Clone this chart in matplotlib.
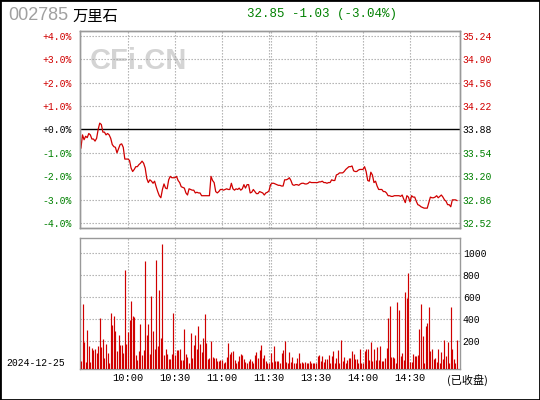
import matplotlib
matplotlib.use("Agg")
import matplotlib.pyplot as plt
from matplotlib.patches import Rectangle

# ---- data (002785 intraday, 2024-12-25) ----
prev_close = 33.88

prices = [
    33.61, 33.80, 33.73, 33.78, 33.76, 33.82, 33.80, 33.74, 33.74, 33.71,
    33.75, 33.88, 33.97, 33.95, 33.84, 33.84, 33.80, 33.82, 33.80, 33.75,
    33.66, 33.63, 33.62, 33.54, 33.60, 33.66, 33.67, 33.62, 33.45, 33.45,
    33.45, 33.43, 33.32, 33.27, 33.30, 33.34, 33.34, 33.37, 33.39, 33.42,
    33.39, 33.32, 33.17, 33.11, 33.15, 33.13, 33.10, 33.13, 33.05, 32.98,
    32.92, 32.89, 33.01, 33.09, 33.03, 33.02, 33.15, 33.20, 33.18, 33.18,
    33.18, 33.20, 33.14, 33.11, 33.05, 33.04, 33.03, 32.96, 32.93, 33.02,
    33.01, 33.00, 33.00, 32.96, 32.97, 32.96, 32.96, 32.92, 32.92, 32.92,
    32.92, 32.92, 32.92, 33.20, 33.14, 33.11, 32.98, 32.96, 32.98, 33.01,
    33.01, 33.00, 33.01, 33.02, 33.01, 33.01, 33.10, 33.02, 33.00, 33.02,
    33.01, 33.03, 33.00, 33.02, 33.08, 33.03, 33.08, 33.08, 32.96, 32.97,
    33.01, 32.98, 32.95, 32.95, 32.98, 32.97, 32.96, 32.93, 32.96, 32.97,
    32.99, 33.08, 33.10, 33.10, 33.09, 33.08, 33.07, 33.07, 33.06, 33.06,
    33.15, 33.15, 33.16, 33.18, 33.14, 33.08, 33.07, 33.08, 33.08, 33.07,
    33.09, 33.10, 33.10, 33.09, 33.09, 33.10, 33.12, 33.11, 33.11, 33.11,
    33.11, 33.11, 33.12, 33.12, 33.13, 33.11, 33.11, 33.10, 33.11, 33.11,
    33.15, 33.14, 33.14, 33.22, 33.23, 33.25, 33.25, 33.25, 33.27, 33.30,
    33.32, 33.34, 33.34, 33.35, 33.28, 33.27, 33.27, 33.29, 33.30, 33.30,
    33.30, 33.34, 33.27, 33.14, 33.13, 33.26, 33.22, 33.11, 33.13, 33.06,
    33.01, 33.01, 33.01, 32.98, 32.98, 32.96, 32.92, 32.92, 32.91, 32.91,
    32.92, 32.92, 32.92, 32.92, 32.91, 32.93, 32.87, 32.82, 32.92, 32.90,
    32.83, 32.92, 32.90, 32.90, 32.84, 32.79, 32.78, 32.76, 32.75, 32.74,
    32.74, 32.74, 32.82, 32.90, 32.89, 32.89, 32.90, 32.92, 32.89, 32.91,
    32.93, 32.90, 32.86, 32.84, 32.79, 32.79, 32.76, 32.86, 32.86, 32.86,
    32.85,
]

volumes = [
    22, 540, 197, 13, 303, 158, 13, 140, 122, 131,
    94, 158, 413, 149, 222, 49, 176, 94, 0, 458,
    349, 431, 294, 113, 258, 167, 167, 94, 849, 176,
    285, 394, 567, 431, 422, 76, 31, 113, 358, 76,
    122, 931, 258, 358, 85, 613, 294, 131, 940, 158,
    667, 231, 1085, 76, 131, 85, 40, 40, 85, 458,
    76, 122, 122, 131, 31, 31, 313, 85, 58, 0,
    276, 49, 167, 258, 131, 340, 176, 104, 231, 449,
    185, 40, 49, 204, 58, 49, 49, 22, 22, 31,
    31, 4, 13, 58, 185, 85, 104, 113, 31, 4,
    22, 67, 85, 76, 40, 13, 4, 22, 40, 22,
    4, 76, 104, 49, 122, 167, 49, 76, 22, 4,
    0, 94, 13, 158, 22, 22, 22, 4, 94, 122,
    204, 13, 0, 104, 13, 58, 0, 0, 49, 94,
    4, 13, 4, 13, 0, 0, 22, 4, 4, 0,
    0, 67, 76, 22, 67, 13, 40, 40, 76, 0,
    67, 113, 0, 49, 122, 4, 213, 22, 58, 4,
    31, 49, 49, 113, 85, 40, 40, 0, 131, 0,
    0, 113, 131, 131, 31, 194, 22, 131, 31, 149,
    31, 158, 22, 22, 49, 140, 413, 522, 58, 58,
    49, 0, 558, 485, 67, 94, 31, 649, 594, 822,
    13, 13, 85, 67, 67, 76, 313, 540, 249, 0,
    340, 367, 513, 113, 131, 40, 49, 13, 131, 0,
    104, 40, 213, 67, 194, 0, 513, 131, 40, 0,
    213,
]

pct_ticks = [4, 3, 2, 1, 0, -1, -2, -3, -4]
left_labels = ["+4.0%", "+3.0%", "+2.0%", "+1.0%", "+0.0%", "-1.0%", "-2.0%", "-3.0%", "-4.0%"]
right_labels = ["35.24", "34.90", "34.56", "34.22", "33.88", "33.54", "33.20", "32.86", "32.52"]
vol_ticks = [1000, 800, 600, 400, 200]
time_ticks = [30, 60, 90, 120, 150, 180, 210]
time_labels = ["10:00", "10:30", "11:00", "11:30", "13:30", "14:00", "14:30"]
grid_minutes = [30, 60, 90, 120, 121.5, 150, 180, 210]

RED = "#d00000"
GREEN = "#008000"
GRID = "#a8a8a8"
FRAME = "#999999"
MONO = "Liberation Mono"
CJK = ["Noto Sans CJK SC", "DejaVu Sans"]


def tick_color(v):
    if v > 0:
        return RED
    if v < 0:
        return GREEN
    return "black"


minutes = list(range(len(prices)))
pct = [(p / prev_close - 1) * 100 for p in prices]

fig = plt.figure(figsize=(5.4, 4.0), dpi=100)
W, H = 540, 400


def axes_box(left, top, right, bottom):
    return [left / W, 1 - bottom / H, (right - left) / W, (bottom - top) / H]


# ---- price panel ----
ax = fig.add_axes(axes_box(80, 31, 460, 227.7))
ax.set_xlim(-0.6, 241.9)
ax.set_ylim(-4.2, 4.2)
for v in pct_ticks:
    if v != 0:
        ax.axhline(v, color=GRID, lw=0.8, ls=(0, (1.2, 1.5)), zorder=1)
for m in grid_minutes:
    ax.axvline(m, color=GRID, lw=0.8, ls=(0, (1.2, 1.5)), zorder=1)
ax.axhline(0, color="black", lw=1.0, zorder=2)
ax.plot(minutes, pct, color=RED, lw=0.9, zorder=3)

ax.set_xticks([])
ax.set_yticks(pct_ticks)
ax.set_yticklabels(left_labels, family=MONO, fontsize=7)
ax.tick_params(axis="y", length=0, pad=6)
for lab, v in zip(ax.get_yticklabels(), pct_ticks):
    lab.set_color(tick_color(v))

ax_r = ax.twinx()
ax_r.set_ylim(ax.get_ylim())
ax_r.set_yticks(pct_ticks)
ax_r.set_yticklabels(right_labels, family=MONO, fontsize=7)
ax_r.tick_params(axis="y", length=0, pad=1.5)
for lab, v in zip(ax_r.get_yticklabels(), pct_ticks):
    lab.set_color(tick_color(v))

for a in (ax, ax_r):
    for s in a.spines.values():
        s.set_color(FRAME)
        s.set_linewidth(1.0)

ax.text(0.025, 0.845, "CFi.CN", transform=ax.transAxes, family="Liberation Sans",
        fontweight="bold", fontsize=21, color="#d4d4d4", va="center", ha="left", zorder=0)

# ---- volume panel ----
vfloor = -54
axv = fig.add_axes(axes_box(80, 238, 460, 369.3))
axv.set_xlim(-0.6, 241.9)
axv.set_ylim(vfloor, 1140)
for v in vol_ticks:
    axv.axhline(v, color=GRID, lw=0.8, ls=(0, (1.2, 1.5)), zorder=1)
for m in grid_minutes:
    axv.axvline(m, color=GRID, lw=0.8, ls=(0, (1.2, 1.5)), zorder=1)
axv.vlines(minutes, vfloor, volumes, color=RED, lw=0.85, zorder=3)

axv.set_xticks(time_ticks)
axv.set_xticklabels(time_labels, family=MONO, fontsize=7.5)
axv.tick_params(axis="x", length=0, pad=3)
axv.yaxis.tick_right()
axv.set_yticks(vol_ticks)
axv.set_yticklabels([str(v) for v in vol_ticks], family=MONO, fontsize=7)
axv.tick_params(axis="y", length=0, pad=2)
for s in axv.spines.values():
    s.set_color(FRAME)
    s.set_linewidth(1.0)

# ---- header and side texts ----
fig.text(8 / W, 1 - 16 / H, "002785", family="Liberation Sans", fontsize=13,
         color="#a0a0a0", va="center", ha="left")
fig.text(72 / W, 1 - 16 / H, "万里石", family=CJK, fontsize=11, color="black",
         va="center", ha="left")
fig.text(247 / W, 1 - 14.5 / H, "32.85 -1.03 (-3.04%)", family=MONO, fontsize=9,
         color=GREEN, va="center", ha="left")
fig.text(6 / W, 1 - 362.5 / H, "2024-12-25", family=MONO, fontsize=7,
         color="black", va="center", ha="left")
fig.text(447 / W, 1 - 380 / H, "(已收盘)", family=CJK, fontsize=8,
         color="black", va="center", ha="left")

fig.patches.append(Rectangle((0, 0), 1, 1, transform=fig.transFigure, fill=False,
                             edgecolor="black", lw=2))

fig.savefig("out.png", dpi=100)
